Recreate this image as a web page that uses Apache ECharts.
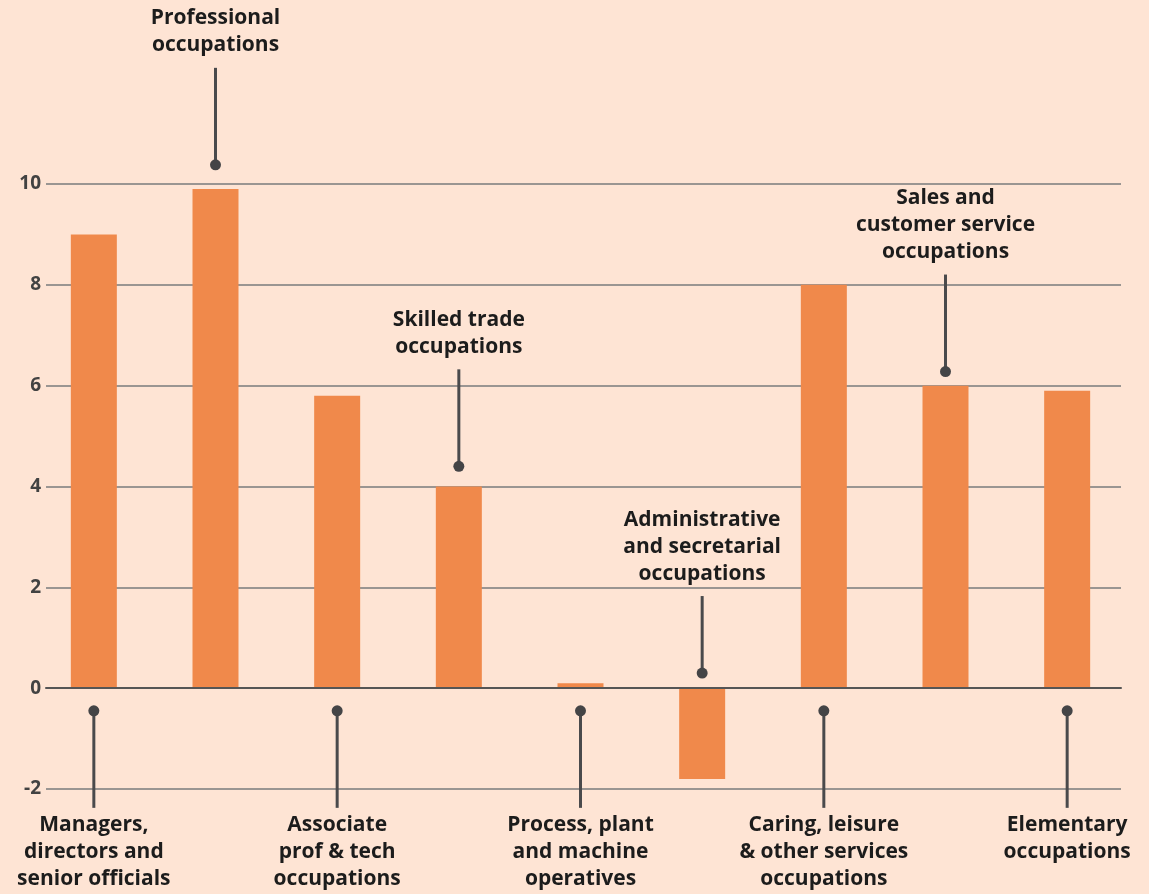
<!DOCTYPE html>
<html>
<head>
<meta charset="utf-8">
<script src="https://cdn.jsdelivr.net/npm/echarts@6/dist/echarts.min.js"></script>
<style>
  html, body { margin: 0; padding: 0; background: #fee4d4; }
  #main { width: 1149px; height: 894px; }
</style>
</head>
<body>
<div id="main"></div>
<script>
var categories = [
    'Managers,\ndirectors and\nsenior officials',
    'Professional\noccupations',
    'Associate\nprof & tech\noccupations',
    'Skilled trade\noccupations',
    'Process, plant\nand machine\noperatives',
    'Administrative\nand secretarial\noccupations',
    'Caring, leisure\n& other services\noccupations',
    'Sales and\ncustomer service\noccupations',
    'Elementary\noccupations'
];
var values = [9.0, 9.9, 5.8, 4.0, 0.1, -1.8, 8.0, 6.0, 5.9];
// where each callout dot sits (axis units) and on which side the label goes
var dotValues = [-0.45, 10.38, -0.45, 4.4, -0.45, 0.3, -0.45, 6.28, -0.45];
var labelSide = ['bottom', 'top', 'bottom', 'top', 'bottom', 'top', 'bottom', 'top', 'bottom'];
var yTicks = [-2, 0, 2, 4, 6, 8, 10];

var myChart = echarts.init(document.getElementById('main'));

var annoData = categories.map(function (c, i) {
    return [i, dotValues[i], labelSide[i] === 'top' ? 1 : 0];
});

var FONT = 'bold 21px "Open Sans"';

option = {
    backgroundColor: '#fee4d4',
    animation: false,
    grid: [
        { left: 33, right: 21, top: 184, bottom: 105 },
        { left: 46, right: 28, top: 184, bottom: 105 }
    ],
    xAxis: [{
        type: 'category',
        gridIndex: 0,
        data: categories,
        axisLine: { show: false },
        axisTick: { show: false },
        axisLabel: { show: false }
    }, {
        type: 'value',
        gridIndex: 1,
        min: 0, max: 1,
        axisLine: { show: true, onZero: true, lineStyle: { color: '#555555', width: 2 } },
        axisTick: { show: false },
        axisLabel: { show: false },
        splitLine: { show: false },
        z: 4
    }],
    yAxis: [{
        type: 'value',
        gridIndex: 0,
        min: -2, max: 10, interval: 2,
        show: false
    }, {
        type: 'value',
        gridIndex: 1,
        min: -2, max: 10, interval: 2,
        axisLine: { show: false },
        axisTick: { show: false },
        axisLabel: {
            color: '#424242',
            fontFamily: 'Open Sans',
            fontWeight: 'bold',
            fontSize: 19,
            margin: 5,
            verticalAlign: 'middle',
            padding: [0, 0, 11, 0],
            formatter: function (v) { return yTicks.indexOf(v) >= 0 ? String(v) : ''; }
        },
        splitLine: {
            show: true,
            lineStyle: { color: '#9a9592', width: 2 }
        }
    }],
    series: [{
        type: 'bar',
        xAxisIndex: 0,
        yAxisIndex: 0,
        data: values,
        barWidth: 46,
        itemStyle: { color: '#f0894b' },
        z: 3
    }, {
        type: 'custom',
        xAxisIndex: 0,
        yAxisIndex: 0,
        data: annoData,
        clip: false,
        z: 5,
        renderItem: function (params, api) {
            var idx = api.value(0);
            var pt = api.coord([idx, api.value(1)]);
            var top = api.value(2) === 1;
            var stem = idx === 5 ? 77 : 97;
            var endY = top ? pt[1] - stem : pt[1] + stem;
            var text = categories[idx];
            return {
                type: 'group',
                children: [{
                    type: 'line',
                    shape: { x1: pt[0], y1: pt[1], x2: pt[0], y2: endY },
                    style: { stroke: '#4a4a4c', lineWidth: 3 }
                }, {
                    type: 'circle',
                    shape: { cx: pt[0], cy: pt[1], r: 5.5 },
                    style: { fill: '#444446' }
                }, {
                    type: 'text',
                    style: {
                        text: text,
                        x: pt[0],
                        y: top ? endY - 9 : endY + 4,
                        align: 'center',
                        verticalAlign: top ? 'bottom' : 'top',
                        font: FONT,
                        lineHeight: 27,
                        fill: '#1c1c1c'
                    }
                }]
            };
        }
    }]
};
myChart.setOption(option);
</script>
</body>
</html>
